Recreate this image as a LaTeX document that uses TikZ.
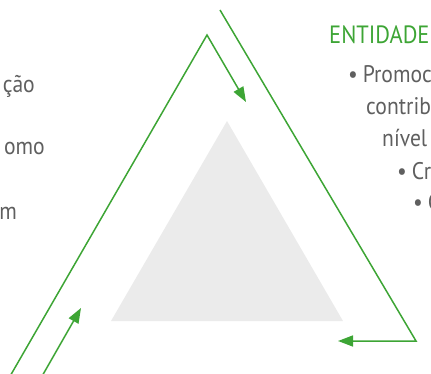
\documentclass[tikz,border=0pt]{standalone}
\usepackage{fontspec}
\setmainfont{PT Sans}[FakeStretch=0.9]
\usetikzlibrary{positioning,arrows.meta}

\definecolor{verde}{RGB}{61,165,53}
\definecolor{cinza}{RGB}{95,95,95}
\definecolor{fundo}{RGB}{235,235,235}

\newcommand{\marca}{\textbullet\kern0.2em}

\tikzset{
	seta/.style={verde, line width=1.5pt, -{Triangle[length=15pt,width=11pt]}},
	texto/.style={cinza, font=\fontsize{24}{28}\selectfont, inner sep=0pt, anchor=base west},
	titulo/.style={verde, font=\fontsize{25}{29}\selectfont, inner sep=0pt, anchor=base west}
}

\begin{document}
\begin{tikzpicture}[x=1pt,y=-1pt]
	\useasboundingbox (0,0) rectangle (431,374);
	
	% triângulo cinza ao centro
	\fill[fundo] (227,121) -- (111,321) -- (343,321) -- cycle;
	
	% pontos das setas verdes
	\coordinate (baseA) at (9,378);
	\coordinate (topo) at (207,35);
	\coordinate (fimA) at (246,102);
	\coordinate (iniB) at (220,10);
	\coordinate (canto) at (416,341);
	\coordinate (fimB) at (338,341);
	\coordinate (baseC) at (41,378);
	\coordinate (fimC) at (81,308);
	
	% setas
	\draw[seta] (baseA) -- (topo) -- (fimA);
	\draw[seta] (iniB) -- (canto) -- (fimB);
	\draw[seta] (baseC) -- (fimC);
	
	% textos à esquerda (cortados)
	\node[texto, anchor=base east] (esq1) at (35,93) {ção};
	\node[texto, anchor=base east] (esq2) at (45,155) {omo};
	\node[texto, anchor=base east] (esq3) at (17,220) {m};
	
	% textos à direita (cortados)
	\node[titulo] (tit) at (329,44) {ENTIDADE};
	\node[texto] (dir1) at (348,83) {\marca Promoc};
	\node[texto] (dir2) at (366,115) {contrib};
	\node[texto] (dir3) at (382,147) {nível};
	\node[texto] (dir4) at (397,180) {\marca Cr};
	\node[texto] (dir5) at (413,211) {\marca C};
\end{tikzpicture}
\end{document}
